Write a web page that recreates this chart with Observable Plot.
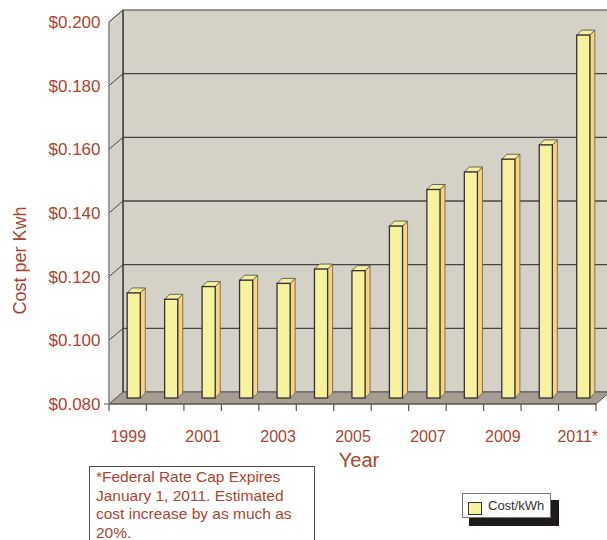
<!DOCTYPE html>
<html>
<head>
<meta charset="utf-8">
<script src="https://cdn.jsdelivr.net/npm/d3@7"></script>
<script src="https://cdn.jsdelivr.net/npm/@observablehq/plot@0.6"></script>
<style>
  body { margin: 0; background: #fff; font-family: "Liberation Sans", Arial, Helvetica, sans-serif; }
  #wrap { position: relative; width: 607px; height: 540px; overflow: hidden; }
  #note { position: absolute; left: 89px; top: 466px; width: 226px; height: 90px;
          border: 1.5px solid #4a4a4a; color: #a9452f; font-size: 15.5px; line-height: 18.5px;
          padding: 1px 0 0 6px; box-sizing: border-box; background: #fff; }
  #legendShadow { position: absolute; left: 469px; top: 500px; width: 90px; height: 26px; background: #1e1a1a; }
  #legend { position: absolute; left: 462px; top: 493px; width: 89px; height: 25px; box-sizing: border-box;
            background: #fff; border: 1px solid #777; font-size: 13px; color: #333; }
  #legend .sw { position: absolute; left: 5px; top: 8px; width: 12px; height: 11px; background: #f8f29c; border: 1px solid #333; }
  #legend .lb { position: absolute; left: 25px; top: 4px; }
</style>
</head>
<body>
<div id="wrap"></div>
<script>
// ---- data ----
const years = [1999, 2000, 2001, 2002, 2003, 2004, 2005, 2006, 2007, 2008, 2009, 2010, 2011];
const costs = [0.113, 0.111, 0.115, 0.117, 0.116, 0.1205, 0.120, 0.134, 0.1455, 0.151, 0.155, 0.1595, 0.194];
const yTicks = [0.08, 0.10, 0.12, 0.14, 0.16, 0.18, 0.20];
const xLabelYears = [1999, 2001, 2003, 2005, 2007, 2009, 2011];
const xLabels = ["1999", "2001", "2003", "2005", "2007", "2009", "2011*"];
const seriesName = "Cost/kWh";
const yTitle = "Cost per Kwh";
const xTitle = "Year";
const noteText = "*Federal Rate Cap Expires January 1, 2011. Estimated cost increase by as much as 20%.";

const data = years.map((year, i) => ({year, cost: costs[i]}));
const boundaries = d3.range(years[0] - 0.5, years[years.length - 1] + 1, 1);

const textColor = "#a9452f";
const wallColor = "#d4d2c6";
const floorColor = "#a69c92";
const frontColor = "#f8f29c";
const topColor = "#f6ef9c";
const sideColor = "#fdd27e";
const DX = 14, DY = -12;          // depth of the 3D box
const BDX = 5, BDY = -5;          // depth of each bar
const BOX = 6, BOY = -6;          // bars sit half way in depth
const halfW = 0.175;              // half bar width in years

function walls(index, scales, values, dim) {
  const x = scales.x, y = scales.y;
  const x0 = x(boundaries[0]), x1 = x(boundaries[boundaries.length - 1]);
  const y0 = y(yTicks[0]), yt = y(yTicks[yTicks.length - 1]);
  const g = d3.create("svg:g");
  g.append("rect").attr("x", x0 + DX).attr("y", yt + DY)
    .attr("width", dim.width - x0).attr("height", y0 - yt)
    .attr("fill", wallColor).attr("stroke", "#666").attr("stroke-width", 1.3);
  g.append("path").attr("d", `M${x0},${yt}L${x0 + DX},${yt + DY}L${x0 + DX},${y0 + DY}L${x0},${y0}Z`)
    .attr("fill", wallColor).attr("stroke", "#888").attr("stroke-width", 1);
  g.append("line").attr("x1", x0 + DX).attr("x2", x0 + DX).attr("y1", yt + DY).attr("y2", y0 + DY)
    .attr("stroke", "#333").attr("stroke-width", 1.3);
  for (const t of yTicks.slice(1, -1)) {
    g.append("line").attr("x1", x0 + DX).attr("x2", dim.width).attr("y1", y(t) + DY).attr("y2", y(t) + DY)
      .attr("stroke", "#444").attr("stroke-width", 1.3);
  }
  for (const t of yTicks.slice(1)) {
    g.append("line").attr("x1", x0).attr("x2", x0 + DX).attr("y1", y(t)).attr("y2", y(t) + DY)
      .attr("stroke", "#444").attr("stroke-width", 1);
  }
  g.append("path").attr("d", `M${x0},${y0}L${x0 + DX},${y0 + DY}L${x1 + DX},${y0 + DY}L${x1},${y0}Z`)
    .attr("fill", floorColor).attr("stroke", "#555").attr("stroke-width", 1);
  // front base line and ticks
  g.append("line").attr("x1", x0 - 5).attr("x2", x1).attr("y1", y0).attr("y2", y0)
    .attr("stroke", "#555").attr("stroke-width", 1.2);
  for (const b of boundaries) {
    g.append("line").attr("x1", x(b)).attr("x2", x(b)).attr("y1", y0).attr("y2", y0 + 7)
      .attr("stroke", "#555").attr("stroke-width", 1.2);
  }
  g.append("line").attr("x1", x0).attr("x2", x0).attr("y1", yt).attr("y2", y0)
    .attr("stroke", "#888").attr("stroke-width", 1.2);
  return g.node();
}

function bars(index, scales) {
  const x = scales.x, y = scales.y;
  const g = d3.create("svg:g");
  for (const d of data) {
    const l = x(d.year - halfW) + BOX, r = x(d.year + halfW) + BOX;
    const b = y(yTicks[0]) + BOY, t = y(d.cost) + BOY;
    g.append("path").attr("d", `M${r},${t}L${r + BDX},${t + BDY}L${r + BDX},${b + BDY}L${r},${b}Z`)
      .attr("fill", sideColor).attr("stroke", "#666").attr("stroke-width", 0.9);
    g.append("path").attr("d", `M${l},${t}L${l + BDX},${t + BDY}L${r + BDX},${t + BDY}L${r},${t}Z`)
      .attr("fill", topColor).attr("stroke", "#555").attr("stroke-width", 0.9);
    g.append("rect").attr("x", l).attr("y", t).attr("width", r - l).attr("height", b - t)
      .attr("fill", frontColor).attr("stroke", "#333").attr("stroke-width", 1.3);
  }
  return g.node();
}

const chart = Plot.plot({
  width: 607,
  height: 540,
  marginLeft: 109,
  marginRight: 11,
  marginTop: 22,
  marginBottom: 136,
  style: {fontFamily: "'Liberation Sans', Arial, Helvetica, sans-serif", color: textColor, background: "transparent", overflow: "visible"},
  x: {domain: [boundaries[0], boundaries[boundaries.length - 1]], axis: null},
  y: {domain: [yTicks[0], yTicks[yTicks.length - 1]], axis: null},
  marks: [
    walls,
    bars,
    Plot.text(yTicks, {x: boundaries[0], y: d => d, dx: -9, textAnchor: "end", text: d => "$" + d.toFixed(3), fontSize: 17, fill: textColor}),
    Plot.text(xLabelYears, {x: d => d, y: yTicks[0], dy: 32, text: (d, i) => xLabels[i], fontSize: 16, fill: textColor}),
    Plot.text([xTitle], {frameAnchor: "bottom", lineAnchor: "middle", dx: 6, dy: 56, fontSize: 20, fill: textColor}),
    Plot.text([yTitle], {frameAnchor: "left", textAnchor: "middle", lineAnchor: "middle", dx: -89, dy: 47, rotate: -90, fontSize: 18, fill: textColor})
  ]
});

const wrap = document.getElementById("wrap");
wrap.appendChild(chart);
const note = document.createElement("div");
note.id = "note"; note.textContent = noteText;
wrap.appendChild(note);
const sh = document.createElement("div"); sh.id = "legendShadow"; wrap.appendChild(sh);
const lg = document.createElement("div"); lg.id = "legend";
lg.innerHTML = `<div class="sw"></div><div class="lb">${seriesName}</div>`;
wrap.appendChild(lg);
chart.style.position = "absolute"; chart.style.left = "0"; chart.style.top = "0";
</script>
</body>
</html>
